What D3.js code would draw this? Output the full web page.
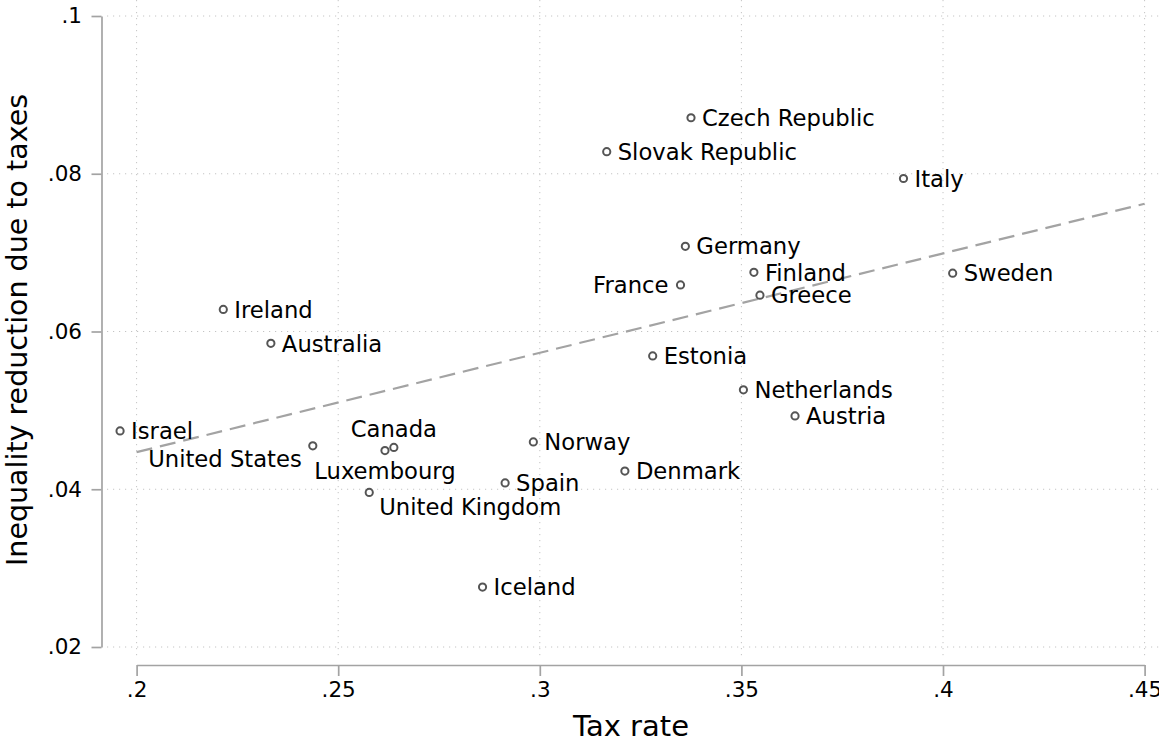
<!DOCTYPE html>
<html>
<head>
<meta charset="utf-8">
<script src="https://cdn.jsdelivr.net/npm/d3@7"></script>
<style>
  body { margin: 0; background: #fff; }
  text { font-family: "DejaVu Sans", sans-serif; }
</style>
</head>
<body>
<div id="chart"></div>
<script>
// countries
const countries = ['Israel', 'Ireland', 'Australia', 'United States', 'Luxembourg', 'Canada',
    'United Kingdom', 'Norway', 'Spain', 'Denmark', 'Iceland', 'Czech Republic', 'Slovak Republic',
    'Italy', 'Germany', 'Finland', 'France', 'Greece', 'Sweden', 'Estonia', 'Netherlands', 'Austria'];
const taxRate = [.1959, .2215, .2333, .2437, .2616, .2638,
    .2577, .2984, .2914, .3211, .2858, .3375, .3166,
    .3902, .3361, .3531, .3349, .3546, .4024, .3280, .3505, .3633];
const ineqReduction = [.0474, .0628, .0585, .0455, .0449, .0453,
    .0396, .0460, .0408, .0423, .0276, .0871, .0828,
    .0794, .0708, .0675, .0659, .0646, .0674, .0569, .0526, .0493];
// marker label position, clock style
const labelPos = [3, 3, 3, 8, 6, 12,
    4, 3, 3, 3, 3, 3, 3,
    3, 3, 3, 9, 3, 3, 3, 3, 3];

// linear fit endpoints
const fitX = [.2, .45];
const fitY = [.0447, .0762];

const xTicks = [.2, .25, .3, .35, .4, .45];
const yTicks = [.02, .04, .06, .08, .1];

const width = 1159;
const height = 740;

const svg = d3.select('#chart')
    .append('svg')
    .attr('width', width)
    .attr('height', height);

const x = d3.scaleLinear()
    .domain([.2, .45])
    .range([136.6, 1144.6]);

const y = d3.scaleLinear()
    .domain([.02, .1])
    .range([647, 16]);

const fmt = d => String(d).replace(/^0/, '');

// Grid
svg.append('g')
    .selectAll('line')
    .data(yTicks)
    .enter()
    .append('line')
    .attr('x1', 107)
    .attr('x2', width)
    .attr('y1', d => y(d))
    .attr('y2', d => y(d))
    .attr('stroke', '#c4c4c4')
    .attr('stroke-width', 1)
    .attr('stroke-dasharray', '1.2,4.8');

svg.append('g')
    .selectAll('line')
    .data(xTicks)
    .enter()
    .append('line')
    .attr('x1', d => x(d))
    .attr('x2', d => x(d))
    .attr('y1', 0)
    .attr('y2', 660)
    .attr('stroke', '#c4c4c4')
    .attr('stroke-width', 1)
    .attr('stroke-dasharray', '1.2,4.8');

// Axes
const yAxis = svg.append('g')
    .attr('transform', 'translate(101.5,0)')
    .call(d3.axisLeft(y).tickValues(yTicks).tickFormat(fmt)
        .tickSize(10).tickSizeOuter(0).tickPadding(9.5));

const xAxis = svg.append('g')
    .attr('transform', 'translate(0,665)')
    .call(d3.axisBottom(x).tickValues(xTicks).tickFormat(fmt)
        .tickSize(11).tickSizeOuter(0).tickPadding(6));

[xAxis, yAxis].forEach(g => {
    g.selectAll('path, line')
        .attr('stroke', '#a3a3a3')
        .attr('stroke-width', 1.7);
    g.selectAll('text')
        .attr('fill', '#000')
        .style('font-family', '"DejaVu Sans", sans-serif')
        .style('font-size', '21.5px');
});

// Fit line
const line = d3.line()
    .x(d => x(d[0]))
    .y(d => y(d[1]));

svg.append('path')
    .datum(d3.zip(fitX, fitY))
    .attr('fill', 'none')
    .attr('stroke', '#a3a3a3')
    .attr('stroke-width', 2.2)
    .attr('stroke-dasharray', '16,8')
    .attr('d', line);

// Points
const data = countries.map((c, i) => ({
    name: c, tax: taxRate[i], ineq: ineqReduction[i], pos: labelPos[i]
}));

svg.selectAll('.dot')
    .data(data)
    .enter()
    .append('circle')
    .attr('class', 'dot')
    .attr('cx', d => x(d.tax))
    .attr('cy', d => y(d.ineq))
    .attr('r', 3.6)
    .attr('fill', '#fff')
    .attr('stroke', '#555')
    .attr('stroke-width', 2);

const offsets = {
    3: {dx: 11, dy: 0, anchor: 'start'},
    9: {dx: -12, dy: 0, anchor: 'end'},
    12: {dx: 0, dy: -19, anchor: 'middle'},
    6: {dx: 0, dy: 20, anchor: 'middle'},
    8: {dx: -11, dy: 13, anchor: 'end'},
    4: {dx: 10, dy: 14, anchor: 'start'}
};

svg.selectAll('.lbl')
    .data(data)
    .enter()
    .append('text')
    .attr('class', 'lbl')
    .attr('x', d => x(d.tax) + offsets[d.pos].dx)
    .attr('y', d => y(d.ineq) + offsets[d.pos].dy)
    .attr('dy', '0.36em')
    .attr('text-anchor', d => offsets[d.pos].anchor)
    .style('font-size', '22.7px')
    .attr('fill', '#000')
    .text(d => d.name);

// Titles
svg.append('text')
    .attr('x', 631)
    .attr('y', 736)
    .attr('text-anchor', 'middle')
    .style('font-size', '29px')
    .text('Tax rate');

svg.append('text')
    .attr('transform', 'translate(27,330) rotate(-90)')
    .attr('text-anchor', 'middle')
    .style('font-size', '28.5px')
    .text('Inequality reduction due to taxes');
</script>
</body>
</html>
